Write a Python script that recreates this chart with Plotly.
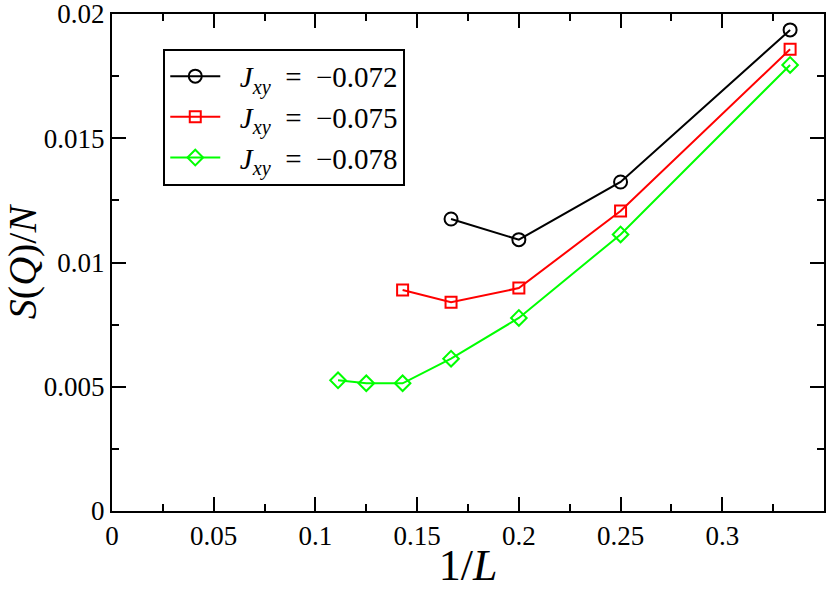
import plotly.graph_objects as go

inv_L_black = [1/6, 1/5, 1/4, 1/3]
s_black = [0.01175, 0.01092, 0.01324, 0.01936]
inv_L_red = [1/7, 1/6, 1/5, 1/4, 1/3]
s_red = [0.00889, 0.00840, 0.00897, 0.01207, 0.01858]
inv_L_green = [1/9, 1/8, 1/7, 1/6, 1/5, 1/4, 1/3]
s_green = [0.00526, 0.00514, 0.00514, 0.00613, 0.00777, 0.01113, 0.01795]
names = ["\u2002<i>J</i><sub><i>xy</i></sub>\u2002=\u2002−0.072",
         "\u2002<i>J</i><sub><i>xy</i></sub>\u2002=\u2002−0.075",
         "\u2002<i>J</i><sub><i>xy</i></sub>\u2002=\u2002−0.078"]
x_ticks = [0, 0.05, 0.1, 0.15, 0.2, 0.25, 0.3]
x_ticklabels = ["0", "0.05", "0.1", "0.15", "0.2", "0.25", "0.3"]
y_ticks = [0, 0.005, 0.01, 0.015, 0.02]
y_ticklabels = ["0", "0.005", "0.01", "0.015", "0.02"]

font_fam = "Liberation Serif"

fig = go.Figure()
fig.add_trace(go.Scatter(x=inv_L_black, y=s_black, mode="lines+markers", name=names[0],
                         line=dict(color="black", width=2),
                         marker=dict(symbol="circle-open", size=13, color="black",
                                     line=dict(width=2))))
fig.add_trace(go.Scatter(x=inv_L_red, y=s_red, mode="lines+markers", name=names[1],
                         line=dict(color="#ff0000", width=2),
                         marker=dict(symbol="square-open", size=11, color="#ff0000",
                                     line=dict(width=2))))
fig.add_trace(go.Scatter(x=inv_L_green, y=s_green, mode="lines+markers", name=names[2],
                         line=dict(color="#00ff00", width=2),
                         marker=dict(symbol="diamond-open", size=12, color="#00ff00",
                                     line=dict(width=2))))

axis_common = dict(showgrid=False, zeroline=False, showline=True, linecolor="black",
                   linewidth=2, mirror="ticks", ticks="inside", tickcolor="black",
                   tickwidth=2, ticklen=14, ticklabeloverflow="allow", automargin=False,
                   tickfont=dict(family=font_fam, size=27, color="black"))

fig.update_xaxes(range=[0, 0.35], tickvals=x_ticks, ticktext=x_ticklabels,
                 minor=dict(ticks="inside", ticklen=7, tickwidth=2, tickcolor="black",
                            dtick=0.025, tick0=0),
                 title=dict(text="1/<i>L</i>", font=dict(family=font_fam, size=44, color="black"),
                            standoff=4),
                 **axis_common)
fig.update_yaxes(range=[0, 0.02], tickvals=y_ticks, ticktext=y_ticklabels,
                 minor=dict(ticks="inside", ticklen=7, tickwidth=2, tickcolor="black",
                            dtick=0.0025, tick0=0),
                 title=dict(text="<i>S</i>(<i>Q</i>)/<i>N</i>",
                            font=dict(family=font_fam, size=40, color="black"), standoff=4),
                 **axis_common)

fig.update_layout(
    width=830, height=590,
    margin=dict(l=112, r=6, t=14, b=79),
    plot_bgcolor="white", paper_bgcolor="white",
    legend=dict(x=0.072, y=0.93, xanchor="left", yanchor="top",
                bordercolor="black", borderwidth=2, bgcolor="white",
                font=dict(family=font_fam, size=29, color="black"),
                itemwidth=50, tracegroupgap=2),
    showlegend=True,
)

fig.write_html("out.html", config={"displayModeBar": False},
               post_script="document.body.style.margin='0';")
